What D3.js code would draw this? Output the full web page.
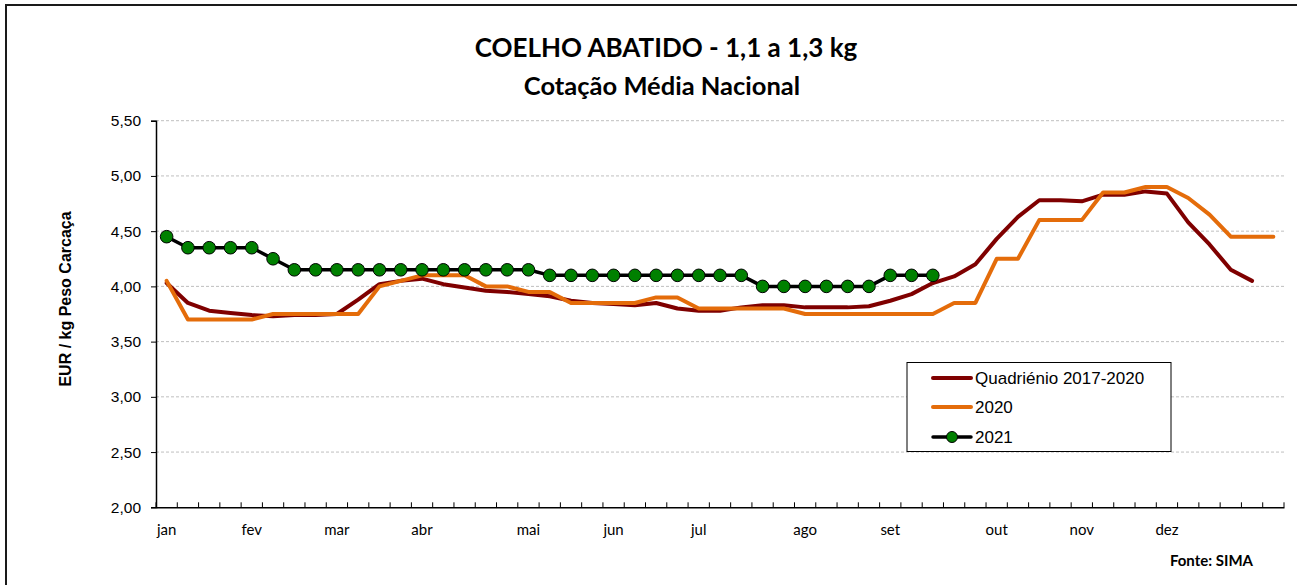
<!DOCTYPE html>
<html>
<head>
<meta charset="utf-8">
<script src="https://cdn.jsdelivr.net/npm/d3@7"></script>
<style>
  html, body { margin: 0; padding: 0; background: #fff; }
  svg { display: block; }
</style>
</head>
<body>
<svg id="chart" width="1297" height="585"></svg>
<script>
// ---- DATA ----
const weeks = [1,2,3,4,5,6,7,8,9,10,11,12,13,14,15,16,17,18,19,20,21,22,23,24,25,26,27,28,29,30,31,32,33,34,35,36,37,38,39,40,41,42,43,44,45,46,47,48,49,50,51,52,53];
const monthLabels = [
  {week: 1, label: "jan"}, {week: 5, label: "fev"}, {week: 9, label: "mar"},
  {week: 13, label: "abr"}, {week: 18, label: "mai"}, {week: 22, label: "jun"},
  {week: 26, label: "jul"}, {week: 31, label: "ago"}, {week: 35, label: "set"},
  {week: 40, label: "out"}, {week: 44, label: "nov"}, {week: 48, label: "dez"}
];
const yTicks = [2.0, 2.5, 3.0, 3.5, 4.0, 4.5, 5.0, 5.5];

const quadrienio = [4.03,3.85,3.78,3.76,3.74,3.73,3.74,3.74,3.75,3.88,4.02,4.05,4.07,4.02,3.99,3.96,3.95,3.93,3.91,3.87,3.85,3.84,3.83,3.85,3.80,3.78,3.78,3.81,3.83,3.83,3.81,3.81,3.81,3.82,3.87,3.93,4.03,4.09,4.20,4.43,4.63,4.78,4.78,4.77,4.83,4.83,4.86,4.84,4.58,4.38,4.15,4.05];
const y2020 = [4.05,3.70,3.70,3.70,3.70,3.75,3.75,3.75,3.75,3.75,4.00,4.05,4.10,4.10,4.10,4.00,4.00,3.95,3.95,3.85,3.85,3.85,3.85,3.90,3.90,3.80,3.80,3.80,3.80,3.80,3.75,3.75,3.75,3.75,3.75,3.75,3.75,3.85,3.85,4.25,4.25,4.60,4.60,4.60,4.85,4.85,4.90,4.90,4.80,4.65,4.45,4.45,4.45];
const y2021 = [4.45,4.35,4.35,4.35,4.35,4.25,4.15,4.15,4.15,4.15,4.15,4.15,4.15,4.15,4.15,4.15,4.15,4.15,4.10,4.10,4.10,4.10,4.10,4.10,4.10,4.10,4.10,4.10,4.00,4.00,4.00,4.00,4.00,4.00,4.10,4.10,4.10];

const seriesNames = ["Quadriénio 2017-2020", "2020", "2021"];

// ---- CHART ----
(function () {
const svg = d3.select("#chart");
const pLeft = 156, pRight = 1284, pTop = 120.7, pBottom = 507.3;
const SANS = "'Liberation Sans', Arial, Arimo, Helvetica, sans-serif";
const CAL = "Lato, 'Open Sans', sans-serif";

const x = d3.scaleBand().domain(weeks).range([pLeft, pRight]).paddingInner(0).paddingOuter(0);
const y = d3.scaleLinear().domain([2, 5.5]).range([pBottom, pTop]);
const cx = w => x(w) + x.bandwidth() / 2;

// outer frame
svg.append("path")
  .attr("d", "M6,600 V5 H1310")
  .attr("fill", "none").attr("stroke", "#1a1a1a").attr("stroke-width", 2);

// title
svg.append("text").attr("x", 666).attr("y", 57).attr("text-anchor", "middle")
  .attr("font-family", CAL).attr("font-weight", "bold")
  .attr("font-size", 26).attr("fill", "#000").text("COELHO ABATIDO - 1,1 a 1,3 kg");
svg.append("text").attr("x", 662).attr("y", 95).attr("text-anchor", "middle")
  .attr("font-family", CAL).attr("font-weight", "bold")
  .attr("font-size", 25.5).attr("fill", "#000").text("Cotação Média Nacional");

// gridlines
svg.append("g").selectAll("line").data(yTicks.filter(d => d > 2)).join("line")
  .attr("x1", pLeft).attr("x2", pRight)
  .attr("y1", d => y(d)).attr("y2", d => y(d))
  .attr("stroke", "#bfbfbf").attr("stroke-width", 1).attr("stroke-dasharray", "3,2");

// y axis
const yAxis = d3.axisLeft(y).tickValues(yTicks).tickSize(5).tickPadding(10)
  .tickFormat(d => d3.format(".2f")(d).replace(".", ","));
const gy = svg.append("g").attr("transform", `translate(${pLeft},0)`).call(yAxis);
gy.select(".domain").attr("stroke", "#000").attr("stroke-width", 1.5);
gy.selectAll(".tick line").attr("stroke", "#000");
gy.selectAll(".tick text").attr("font-family", SANS)
  .attr("font-size", 15.5).attr("fill", "#000");

// x axis
const xAxis = d3.axisBottom(x).tickSize(0).tickFormat("");
const gx = svg.append("g").attr("transform", `translate(0,${pBottom})`).call(xAxis);
gx.select(".domain").attr("stroke", "#000").attr("stroke-width", 1.5);
gx.selectAll(".tick").remove();
const boundaries = weeks.map(w => x(w)).concat([pRight]);
svg.append("g").selectAll("line").data(boundaries).join("line")
  .attr("x1", d => d).attr("x2", d => d)
  .attr("y1", pBottom).attr("y2", pBottom - 5)
  .attr("stroke", "#000").attr("stroke-width", 1);
svg.append("g").selectAll("text").data(monthLabels).join("text")
  .attr("x", d => cx(d.week)).attr("y", 535).attr("text-anchor", "middle")
  .attr("font-family", CAL).attr("font-size", 15)
  .attr("fill", "#000").text(d => d.label);

// y axis title
svg.append("text").attr("transform", `translate(71,299) rotate(-90)`)
  .attr("text-anchor", "middle")
  .attr("font-family", SANS).attr("font-weight", "bold")
  .attr("font-size", 16).attr("fill", "#000").text("EUR / kg Peso Carcaça");

// lines
const line = d3.line().x((d, i) => cx(weeks[i])).y(d => y(d));
svg.append("path").datum(quadrienio).attr("d", line)
  .attr("fill", "none").attr("stroke", "#7f0000").attr("stroke-width", 4)
  .attr("stroke-linejoin", "round").attr("stroke-linecap", "round");
svg.append("path").datum(y2020).attr("d", line)
  .attr("fill", "none").attr("stroke", "#e46c0a").attr("stroke-width", 4)
  .attr("stroke-linejoin", "round").attr("stroke-linecap", "round");
svg.append("path").datum(y2021).attr("d", line)
  .attr("fill", "none").attr("stroke", "#000").attr("stroke-width", 3.5)
  .attr("stroke-linejoin", "round");
svg.append("g").selectAll("circle").data(y2021).join("circle")
  .attr("cx", (d, i) => cx(weeks[i])).attr("cy", d => y(d)).attr("r", 6.3)
  .attr("fill", "#008000").attr("stroke", "#000").attr("stroke-width", 1);

// legend
const lg = svg.append("g");
lg.append("rect").attr("x", 907).attr("y", 362.5).attr("width", 264).attr("height", 89)
  .attr("fill", "#fff").attr("stroke", "#000").attr("stroke-width", 1);
const legendItems = [
  {name: seriesNames[0], color: "#7f0000", w: 4, marker: false, ly: 378},
  {name: seriesNames[1], color: "#e46c0a", w: 4, marker: false, ly: 407},
  {name: seriesNames[2], color: "#000", w: 3.5, marker: true, ly: 437}
];
legendItems.forEach(it => {
  lg.append("line").attr("x1", 933).attr("x2", 971).attr("y1", it.ly).attr("y2", it.ly)
    .attr("stroke", it.color).attr("stroke-width", it.w).attr("stroke-linecap", "round");
  if (it.marker) {
    lg.append("circle").attr("cx", 952).attr("cy", it.ly).attr("r", 5.5)
      .attr("fill", "#008000").attr("stroke", "#000").attr("stroke-width", 1);
  }
  lg.append("text").attr("x", 975).attr("y", it.ly + 6)
    .attr("font-family", SANS).attr("font-size", 17)
    .attr("fill", "#000").text(it.name);
});

// source
svg.append("text").attr("x", 1253).attr("y", 566).attr("text-anchor", "end")
  .attr("font-family", CAL).attr("font-weight", "bold")
  .attr("font-size", 15).attr("fill", "#000").text("Fonte: SIMA");
})();
</script>
</body>
</html>
